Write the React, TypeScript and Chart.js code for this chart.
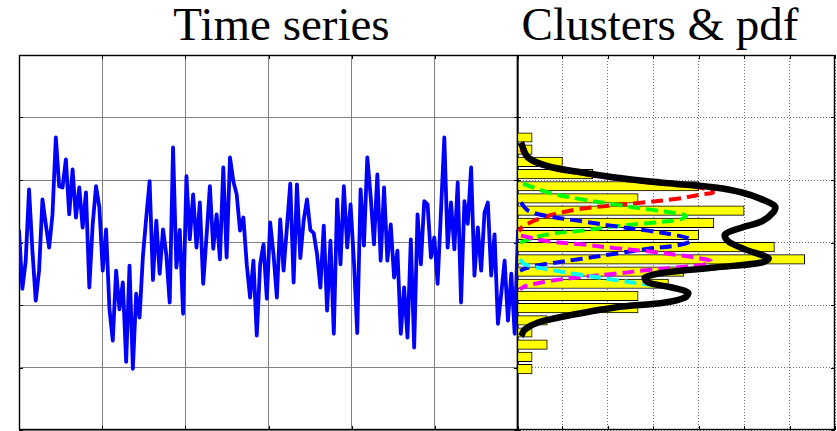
import React, { useEffect, useRef } from "react";
import { Chart, registerables } from "chart.js";

Chart.register(...registerables);

// ---------- Data ----------
// Time series (150 samples)
const seriesValues: number[] = [
  0.19, -0.74, -0.3, 0.85, -0.13, -0.93, -0.45, 0.69, 0.29, -0.08,
  0.45, 1.68, 0.9, 0.88, 1.33, 0.45, 1.17, 0.4, 0.88, 0.24,
  0.8, -0.72, 0.29, 0.9, 0.56, -0.45, 0.21, -1.06, -1.57, -0.45,
  -1.07, -0.64, -1.91, -0.37, -2.02, -0.82, -1.2,
  -0.22, 0.4, 0.98, -0.6, 0.35, -0.5, 0.21, -0.2, -0.96, 1.52, -0.4, 0.2, -1.14,
  1.06, 0.05, 0.77, -0.08, 0.64, -0.66, 0.1, 0.9, -0.1, 0.45, -0.27, 1.2, -0.24, 1.36,
  0.98, 0.77, 0.19, 0.4, -0.35, -0.88, -0.29, -1.49, -0.35, -0.03, -0.9, 0.32,
  -0.19, -0.88, 0.37, -0.45, 0.24, 0.94, -0.64, 0.93, -0.25, 0.35, 0.69, 0.2, 0.15, -0.19, -0.72, 0.27, -1.09, 0.03, -1.46,
  0.69, -0.35, 0.9, -0.08, 0.61, -0.29, -1.45, 0.85, -0.05, 1.36, 0.74, -0.03, 1.09, -0.29, 0.88, -0.29, 0.29, -0.56, -0.13,
  -1.46, -0.72, -1.52, 0.05, -1.68, 0.45, -0.35, 0.66, 0.61, -0.24, 0.08, -0.66, 0.5, 1.68,
  -0.08, 0.64, -0.11, 0.96, -0.96, 0.66, 0.3, 1.2, -0.53, 0.24, -0.45, 0.48, 0.64, -0.53, 0.13, -1.3, -0.82, -0.29, -1.25, -0.5, -1.46, 0.19,
];

// Histogram (bin centres on the value axis, counts)
const binCenters: number[] = [
  1.68, 1.485, 1.29, 1.095, 0.9, 0.705, 0.51, 0.315, 0.12, -0.075,
  -0.27, -0.465, -0.66, -0.855, -1.05, -1.245, -1.44, -1.635, -1.83, -2.025,
];
const binCounts: number[] = [1, 1, 3, 5, 12, 8, 15, 13, 12, 17, 19, 11, 10, 8, 8, 2, 1, 2, 1, 1];

// pdf curves: [count-scaled density, value]
const pdfTotal: [number, number][] = [
  [0.26, 1.6], [0.73, 1.36], [2.05, 1.22], [4.29, 1.12], [6.47, 1.04], [8.65, 0.98],
  [10.9, 0.93], [13.08, 0.88], [14.86, 0.8], [16.18, 0.69], [17.04, 0.58], [16.91, 0.48],
  [16.18, 0.34], [14.86, 0.24], [13.74, 0.13], [13.94, 0.02], [15.06, -0.11], [16.6, -0.25],
  [16.18, -0.32], [13.08, -0.4], [9.78, -0.48], [8.45, -0.56], [8.65, -0.64], [10.24, -0.72],
  [11.29, -0.8], [11.1, -0.88], [9.78, -0.96], [6.47, -1.04], [3.17, -1.18], [1.39, -1.28],
  [0.53, -1.39], [0.26, -1.5],
];
const pdfRed: [number, number][] = [
  [0.26, 1.49], [0.73, 1.34], [2.05, 1.2], [4.29, 1.1], [6.47, 1.02], [8.65, 0.96],
  [10.9, 0.91], [12.4, 0.86], [12.95, 0.8], [12.2, 0.77], [10.57, 0.7], [8.32, 0.64],
  [6.14, 0.59], [3.96, 0.53], [1.72, 0.4], [0.4, 0.26], [0.13, 0.18],
];
const pdfGreen: [number, number][] = [
  [0.4, 0.94], [2.05, 0.8], [4.29, 0.69], [6.47, 0.61], [8.65, 0.53], [10.44, 0.47],
  [11.16, 0.43], [10.77, 0.37], [8.65, 0.31], [6.47, 0.26], [4.29, 0.19], [2.05, 0.13],
  [0.53, 0.03], [0.13, -0.02],
];
const pdfBlue: [number, number][] = [
  [0.26, 0.64], [0.73, 0.51], [2.05, 0.42], [4.29, 0.34], [6.47, 0.26], [8.65, 0.19],
  [10.44, 0.12], [11.29, 0.07], [11.49, 0.02], [10.44, -0.05], [8.65, -0.1], [6.47, -0.18],
  [4.29, -0.26], [2.05, -0.34], [0.73, -0.4], [0.2, -0.45],
];
const pdfMagenta: [number, number][] = [
  [0.26, 0.11], [2.05, 0.02], [4.29, -0.03], [6.47, -0.09], [8.65, -0.14], [10.9, -0.21],
  [12.22, -0.26], [12.81, -0.3], [12.22, -0.36], [10.9, -0.39], [8.65, -0.44], [6.47, -0.5],
  [4.29, -0.55], [2.05, -0.62], [0.53, -0.7], [0.2, -0.75],
];
const pdfCyan: [number, number][] = [
  [0.2, -0.27], [0.53, -0.35], [2.05, -0.43], [4.29, -0.52], [6.47, -0.6], [8.26, -0.66],
  [9.45, -0.7], [10.77, -0.77], [11.29, -0.82], [11.03, -0.89], [9.78, -0.96], [6.47, -1.05],
  [3.17, -1.18], [1.39, -1.29], [0.53, -1.39], [0.26, -1.5],
];

const leftTitle = "Time series";
const rightTitle = "Clusters & pdf";

// ---------- helpers ----------
const framePlugin = {
  id: "frame",
  beforeDatasetsDraw(chart: any) {
    const { ctx, chartArea: a, scales } = chart;
    const xs = scales.x;
    const ys = scales.y;
    ctx.save();
    ctx.strokeStyle = "#000";
    ctx.lineWidth = 1;
    ctx.beginPath();
    const L = 4;
    xs.ticks.forEach((_t: any, i: number) => {
      const p = Math.round(xs.getPixelForTick(i)) + 0.5;
      ctx.moveTo(p, a.top);
      ctx.lineTo(p, a.top + L);
      ctx.moveTo(p, a.bottom);
      ctx.lineTo(p, a.bottom - L);
    });
    ys.ticks.forEach((_t: any, i: number) => {
      const p = Math.round(ys.getPixelForTick(i)) + 0.5;
      ctx.moveTo(a.left, p);
      ctx.lineTo(a.left + L, p);
      ctx.moveTo(a.right, p);
      ctx.lineTo(a.right - L, p);
    });
    ctx.stroke();
    ctx.lineWidth = 1.4;
    ctx.strokeRect(
      Math.round(a.left) + 0.5,
      Math.round(a.top) + 0.5,
      Math.round(a.right - a.left) - 1,
      Math.round(a.bottom - a.top) - 1
    );
    ctx.restore();
  },
};

const toXY = (pts: [number, number][]) => pts.map(([c, v]) => ({ x: c, y: v }));

const dashed = (pts: [number, number][], color: string, order: number) => ({
  type: "line" as const,
  data: toXY(pts),
  borderColor: color,
  borderWidth: 4,
  borderDash: [12, 6],
  borderCapStyle: "butt",
  pointRadius: 0,
  tension: 0.35,
  fill: false,
  order,
});

export default function App() {
  const leftRef = useRef<HTMLCanvasElement | null>(null);
  const rightRef = useRef<HTMLCanvasElement | null>(null);

  useEffect(() => {
    const leftChart = new Chart(leftRef.current as HTMLCanvasElement, {
      type: "line",
      data: {
        datasets: [
          {
            data: seriesValues.map((v, i) => ({ x: i, y: v })),
            borderColor: "#0000ff",
            borderWidth: 3.8,
            pointRadius: 0,
            tension: 0,
            borderJoinStyle: "round",
            borderCapStyle: "round",
          } as any,
        ],
      },
      options: {
        animation: false,
        responsive: false,
        maintainAspectRatio: false,
        layout: { padding: { left: 19, right: 2, top: 55, bottom: 1 } },
        plugins: { legend: { display: false }, tooltip: { enabled: false }, title: { display: false } },
        scales: {
          x: {
            type: "linear",
            min: 0,
            max: seriesValues.length - 1,
            afterBuildTicks: (s: any) => {
              const n = seriesValues.length - 1;
              s.ticks = [0, 1, 2, 3, 4, 5, 6].map((k) => ({ value: (k * n) / 6 }));
            },
            ticks: { display: false },
            grid: { color: "#808080", lineWidth: 1, drawTicks: false },
            border: { display: false },
          },
          y: {
            type: "linear",
            min: -3,
            max: 3,
            ticks: { display: false, stepSize: 1 },
            grid: { color: "#808080", lineWidth: 1, drawTicks: false },
            border: { display: false },
          },
        },
      } as any,
      plugins: [framePlugin],
    });

    const rightChart = new Chart(rightRef.current as HTMLCanvasElement, {
      type: "bar",
      data: {
        datasets: [
          {
            type: "line",
            data: toXY(pdfTotal),
            borderColor: "#000000",
            borderWidth: 6.5,
            pointRadius: 0,
            tension: 0.35,
            fill: false,
            order: 0,
          } as any,
          dashed(pdfCyan, "#00ffff", 1),
          dashed(pdfMagenta, "#ff00ff", 2),
          dashed(pdfBlue, "#0000ff", 3),
          dashed(pdfGreen, "#00ff00", 4),
          dashed(pdfRed, "#ff0000", 5),
          {
            type: "bar",
            data: binCenters.map((c, i) => ({ x: binCounts[i], y: c })),
            backgroundColor: "#ffff00",
            borderColor: "#000000",
            borderWidth: 1,
            borderSkipped: false,
            barThickness: 9.5,
            order: 10,
          } as any,
        ],
      },
      options: {
        indexAxis: "y",
        animation: false,
        responsive: false,
        maintainAspectRatio: false,
        layout: { padding: { left: 19, right: 2, top: 55, bottom: 1 } },
        plugins: { legend: { display: false }, tooltip: { enabled: false }, title: { display: false } },
        scales: {
          x: {
            type: "linear",
            min: 0,
            max: 21,
            ticks: { display: false, stepSize: 3 },
            grid: { color: "#6e6e6e", lineWidth: 1, drawTicks: false },
            border: { display: false, dash: [1, 2] },
          },
          y: {
            type: "linear",
            min: -3,
            max: 3,
            offset: false,
            ticks: { display: false, stepSize: 1 },
            grid: { color: "#6e6e6e", lineWidth: 1, drawTicks: false, offset: false },
            border: { display: false, dash: [1, 2] },
          },
        },
      } as any,
      plugins: [framePlugin],
    });

    return () => {
      leftChart.destroy();
      rightChart.destroy();
    };
  }, []);

  const titleStyle: React.CSSProperties = {
    position: "absolute",
    top: 1,
    width: 400,
    textAlign: "center",
    fontFamily: '"Liberation Serif", "Times New Roman", serif',
    fontSize: 47,
    lineHeight: "47px",
    color: "#000",
    whiteSpace: "nowrap",
  };

  return (
    <div
      style={{
        position: "fixed",
        left: 0,
        top: 0,
        width: 837,
        height: 431,
        background: "#fff",
        overflow: "hidden",
      }}
    >
      <div style={{ ...titleStyle, left: 81.5 }}>{leftTitle}</div>
      <div style={{ ...titleStyle, left: 460 }}>{rightTitle}</div>
      <canvas
        ref={leftRef}
        width={520}
        height={431}
        style={{ position: "absolute", left: 0, top: 0, width: 520, height: 431 }}
      />
      <canvas
        ref={rightRef}
        width={339}
        height={431}
        style={{ position: "absolute", left: 498, top: 0, width: 339, height: 431 }}
      />
    </div>
  );
}
